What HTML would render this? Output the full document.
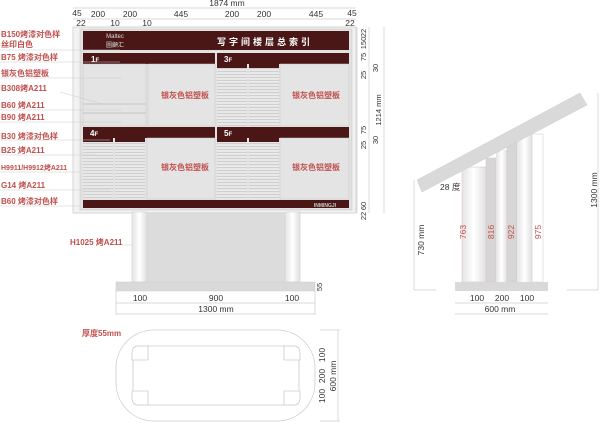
<!DOCTYPE html>
<html><head><meta charset="utf-8"><style>
html,body{margin:0;padding:0;background:#fff;width:600px;height:425px;overflow:hidden}
svg{display:block}
text{font-family:"Liberation Sans","Noto Sans CJK SC",sans-serif}
.r{fill:#c0504d;font-size:8px;font-weight:bold}
.d{fill:#333;font-size:8.5px}
.s{fill:#333;font-size:7.5px}
.ln{stroke:#ccc;stroke-width:0.7;fill:none}
</style></head><body>
<svg width="600" height="425" viewBox="0 0 600 425" xmlns="http://www.w3.org/2000/svg">
<defs>
<pattern id="lv" width="10" height="3" patternUnits="userSpaceOnUse">
<rect width="10" height="3" fill="#e8e8e8"/><line x1="0" y1="2.5" x2="10" y2="2.5" stroke="#c4c4c4" stroke-width="0.7"/>
</pattern>
<linearGradient id="pg" x1="0" x2="1"><stop offset="0" stop-color="#e4e4e4"/><stop offset="0.5" stop-color="#fff"/><stop offset="1" stop-color="#e0e0e0"/></linearGradient>
</defs>

<!-- top dims -->
<text x="227" y="6" class="d" text-anchor="middle">1874 mm</text>
<line x1="73" y1="8" x2="356" y2="8" class="ln"/>
<g class="d" text-anchor="middle">
<text x="77" y="16">45</text><text x="98" y="17">200</text><text x="130" y="17">200</text><text x="181" y="17">445</text>
<text x="232" y="17">200</text><text x="264" y="17">200</text><text x="316" y="17">445</text><text x="352" y="16">45</text>
<text x="81" y="26">22</text><text x="115" y="26">10</text><text x="147" y="26">10</text><text x="350" y="26">22</text>
</g>
<line x1="73" y1="19" x2="356" y2="19" class="ln"/>

<!-- frame -->
<rect x="73" y="27" width="283" height="186" fill="#f2f2f2" stroke="#ccc" stroke-width="0.8"/>
<rect x="80" y="29" width="272" height="181" fill="#e2e2e2" stroke="#c8c8c8" stroke-width="0.6"/>
<rect x="83" y="31" width="266" height="19" fill="#4a1616"/>
<text x="115" y="38" fill="#ddd" font-size="6" font-family="Liberation Serif" text-anchor="middle">Maltec</text>
<text x="115" y="47" fill="#ddd" font-size="6" text-anchor="middle">圖顧汇</text>
<text x="265" y="45" fill="#fff" font-size="9" font-weight="bold" letter-spacing="3" text-anchor="middle">写字间楼层总索引</text>

<rect x="83" y="53" width="132" height="11" fill="#4a1616"/>
<rect x="217" y="53" width="132" height="11" fill="#4a1616"/>
<rect x="83" y="127" width="132" height="11" fill="#4a1616"/>
<rect x="217" y="127" width="132" height="11" fill="#4a1616"/>
<g fill="#fff" font-weight="bold" font-size="8">
<text x="91" y="62">1<tspan font-size="6">F</tspan></text><text x="224" y="62">3<tspan font-size="6">F</tspan></text>
<text x="90" y="136">4<tspan font-size="6">F</tspan></text><text x="224" y="136">5<tspan font-size="6">F</tspan></text>
</g>

<!-- panels -->
<rect x="83" y="64" width="63" height="62" fill="#e4e4e4" stroke="#c8c8c8" stroke-width="0.5"/>
<line x1="83" y1="104" x2="146" y2="104" stroke="#bbb" stroke-width="0.8"/>
<line x1="83" y1="113" x2="146" y2="113" stroke="#bbb" stroke-width="0.8"/>
<rect x="148" y="64" width="67" height="62" fill="#e4e4e4" stroke="#c8c8c8" stroke-width="0.5"/>
<rect x="217" y="64" width="30" height="62" fill="url(#lv)"/><rect x="217" y="64" width="30" height="4" fill="#4a1616"/>
<rect x="249" y="64" width="30" height="62" fill="url(#lv)"/><rect x="249" y="64" width="30" height="4" fill="#4a1616"/>
<rect x="280" y="64" width="69" height="62" fill="#e4e4e4" stroke="#c8c8c8" stroke-width="0.5"/>

<rect x="83" y="138" width="30" height="61" fill="url(#lv)"/><rect x="83" y="138" width="30" height="4" fill="#4a1616"/>
<rect x="115" y="138" width="30" height="61" fill="url(#lv)"/><rect x="115" y="138" width="30" height="4" fill="#4a1616"/>
<rect x="147" y="138" width="68" height="61" fill="#e4e4e4" stroke="#c8c8c8" stroke-width="0.5"/>
<rect x="217" y="138" width="30" height="61" fill="url(#lv)"/><rect x="217" y="138" width="30" height="4" fill="#4a1616"/>
<rect x="249" y="138" width="30" height="61" fill="url(#lv)"/><rect x="249" y="138" width="30" height="4" fill="#4a1616"/>
<rect x="280" y="138" width="69" height="61" fill="#e4e4e4" stroke="#c8c8c8" stroke-width="0.5"/>
<g class="r" text-anchor="middle">
<text x="185" y="98">银灰色铝塑板</text><text x="316" y="98">银灰色铝塑板</text>
<text x="185" y="170">银灰色铝塑板</text><text x="316" y="170">银灰色铝塑板</text>
</g>
<rect x="83" y="200" width="266" height="8" fill="#4a1616"/>
<text x="325" y="207" fill="#ccc" font-size="5" font-weight="bold" text-anchor="middle">INMINGJI</text>

<!-- left labels -->
<g class="r">
<text x="1" y="37">B150烤漆对色样</text><text x="1" y="47">丝印白色</text><text x="1" y="60">B75 烤漆对色样</text>
<text x="1" y="76">银灰色铝塑板</text><text x="1" y="91">B308烤A211</text><text x="1" y="108">B60 烤A211</text>
<text x="1" y="120">B90 烤A211</text><text x="1" y="139">B30 烤漆对色样</text><text x="1" y="153">B25 烤A211</text>
<text x="1" y="170" font-size="7">H9911/H9912烤A211</text><text x="1" y="188">G14 烤A211</text><text x="1" y="204">B60 烤漆对色样</text>
<text x="70" y="245">H1025 烤A211</text><text x="82" y="336">厚度55mm</text>
</g>
<g stroke="#ccc" stroke-width="0.5">
<line x1="0" y1="50" x2="120" y2="50"/><line x1="0" y1="62" x2="120" y2="62"/><line x1="0" y1="78" x2="122" y2="78"/>
<line x1="60" y1="92" x2="103" y2="104"/><line x1="0" y1="110" x2="122" y2="110"/><line x1="0" y1="122" x2="122" y2="122"/>
<line x1="0" y1="140" x2="110" y2="140"/><line x1="0" y1="155" x2="95" y2="155"/><line x1="0" y1="172" x2="80" y2="172"/>
<line x1="0" y1="190" x2="110" y2="190"/><line x1="0" y1="206" x2="80" y2="206"/><line x1="122" y1="245" x2="141" y2="245"/>
</g>

<!-- right dims -->
<line x1="357" y1="27" x2="357" y2="213" class="ln"/><line x1="369" y1="27" x2="369" y2="213" class="ln"/><line x1="384" y1="27" x2="384" y2="213" class="ln"/>
<g class="s" text-anchor="middle">
<text transform="translate(366,33) rotate(-90)">22</text><text transform="translate(366,43) rotate(-90)">150</text>
<text transform="translate(366,57) rotate(-90)">75</text><text transform="translate(366,75) rotate(-90)">25</text>
<text transform="translate(378,68) rotate(-90)">30</text><text transform="translate(381,110) rotate(-90)">1214 mm</text>
<text transform="translate(366,130) rotate(-90)">75</text><text transform="translate(366,145) rotate(-90)">25</text>
<text transform="translate(378,140) rotate(-90)">30</text>
<text transform="translate(366,206) rotate(-90)">60</text><text transform="translate(366,216) rotate(-90)">22</text>
</g>

<!-- legs front -->
<rect x="147" y="212" width="138" height="70" fill="#dcdcdc"/>
<rect x="132" y="212" width="15" height="70" fill="url(#pg)" stroke="#ccc" stroke-width="0.5"/>
<rect x="285" y="212" width="15" height="70" fill="url(#pg)" stroke="#ccc" stroke-width="0.5"/>
<rect x="116" y="282" width="199" height="9" fill="#d9d9d9" stroke="#ccc" stroke-width="0.5"/>
<text transform="translate(322,287) rotate(-90)" class="s" text-anchor="middle">55</text>
<g class="d" text-anchor="middle"><text x="140" y="301">100</text><text x="216" y="301">900</text><text x="292" y="301">100</text><text x="216" y="312">1300 mm</text></g>
<line x1="116" y1="303" x2="315" y2="303" class="ln"/><line x1="116" y1="314" x2="315" y2="314" class="ln"/>
<line x1="116" y1="291" x2="116" y2="315" class="ln"/><line x1="315" y1="291" x2="315" y2="315" class="ln"/>

<!-- base plan -->
<rect x="116" y="330" width="199" height="91" rx="38" fill="none" stroke="#ccc" stroke-width="0.8"/>
<rect x="133" y="346" width="166" height="59" rx="4" fill="none" stroke="#ccc" stroke-width="0.8"/>
<path d="M148 346 H138 Q132 346 132 354 V360 H148 Z M284 346 H294 Q300 346 300 354 V360 H284 Z M148 405 H138 Q132 405 132 397 V391 H148 Z M284 405 H294 Q300 405 300 397 V391 H284 Z" fill="#fff" stroke="#ccc" stroke-width="0.8"/>
<line x1="320" y1="330" x2="340" y2="330" class="ln"/><line x1="338" y1="330" x2="338" y2="421" class="ln"/><line x1="320" y1="421" x2="340" y2="421" class="ln"/>
<g class="d" text-anchor="middle">
<text transform="translate(325,355) rotate(-90)">100</text><text transform="translate(325,376) rotate(-90)">200</text>
<text transform="translate(325,396) rotate(-90)">100</text><text transform="translate(336,376) rotate(-90)">600 mm</text>
</g>

<!-- side view -->
<rect x="462" y="167" width="24" height="115" fill="url(#pg)" stroke="#e0c0c0" stroke-width="0.5"/>
<rect x="486" y="158" width="10" height="124" fill="#d6d6d6" stroke="#e0c0c0" stroke-width="0.5"/>
<rect x="496" y="150" width="11" height="132" fill="url(#pg)"/>
<rect x="507" y="142" width="10" height="140" fill="#d6d6d6" stroke="#e0c0c0" stroke-width="0.5"/>
<rect x="517" y="134" width="15" height="148" fill="url(#pg)"/>
<rect x="532" y="134" width="11" height="148" fill="#fff" stroke="#ccc" stroke-width="0.5"/>
<polygon points="417,180 580,93 587,105 422,192" fill="#d9d9d9" stroke="#ccc" stroke-width="0.5"/>
<rect x="455" y="282" width="93" height="9" fill="#d9d9d9"/>
<text x="440" y="190" class="d">28 度</text>
<g fill="#c0504d" font-size="8.5" text-anchor="middle">
<text transform="translate(466,232) rotate(-90)">763</text><text transform="translate(494,232) rotate(-90)">816</text>
<text transform="translate(514,232) rotate(-90)">922</text><text transform="translate(541,232) rotate(-90)">975</text>
</g>
<line x1="414" y1="180" x2="414" y2="290" class="ln"/><line x1="414" y1="290" x2="436" y2="290" class="ln"/>
<text transform="translate(424,240) rotate(-90)" class="d" text-anchor="middle">730 mm</text>
<line x1="598" y1="93" x2="598" y2="290" class="ln"/><line x1="567" y1="290" x2="598" y2="290" class="ln"/>
<text transform="translate(597,190) rotate(-90)" class="d" text-anchor="middle">1300 mm</text>
<g class="d" text-anchor="middle"><text x="477" y="301">100</text><text x="502" y="301">200</text><text x="527" y="301">100</text><text x="500" y="312">600 mm</text></g>
<line x1="455" y1="303" x2="548" y2="303" class="ln"/><line x1="455" y1="314" x2="548" y2="314" class="ln"/>
</svg>
</body></html>
